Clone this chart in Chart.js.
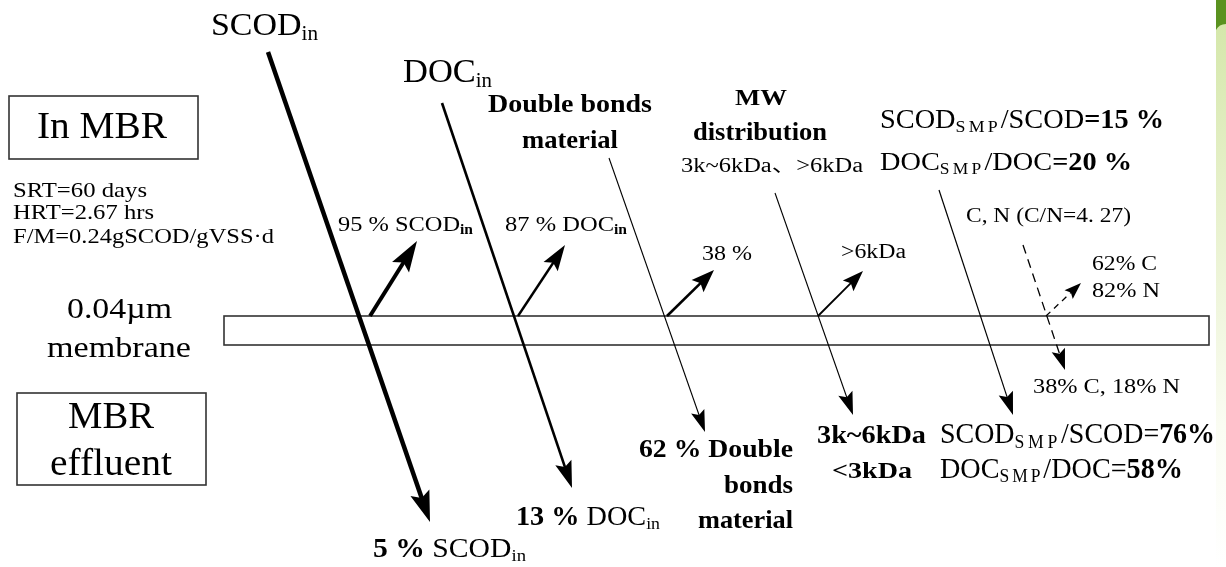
<!DOCTYPE html>
<html>
<head>
<meta charset="utf-8">
<script src="https://cdn.jsdelivr.net/npm/chart.js@4.4.1/dist/chart.umd.min.js"></script>
<style>
  html, body { margin: 0; padding: 0; background: #ffffff; }
  #wrap { width: 1226px; height: 567px; }
</style>
</head>
<body>
<div id="wrap"><canvas id="c" width="1226" height="567"></canvas></div>
<script>
// ---------------- data (diagram units) ----------------
const retainedPct = [95, 87, 38];          // SCODin, DOCin, double bonds kept in MBR
const effluentPct = [5, 13, 62];           // SCODin, DOCin, double bonds in effluent
const smpInMBR = [15, 20];                 // SCOD_SMP/SCOD, DOC_SMP/DOC in MBR (%)
const smpInEffluent = [76, 58];            // SCOD_SMP/SCOD, DOC_SMP/DOC in effluent (%)
const cnRatio = 4.27;
const cnRetained = [62, 82];               // % C, % N
const cnPassed = [38, 18];                 // % C, % N
const operating = ['SRT=60 days', 'HRT=2.67 hrs', 'F/M=0.24gSCOD/gVSS\u00b7d'];
const mwRetained = '>6kDa';
const mwInMBR = ['3k~6kDa', '\u3001', '>6kDa'];
const mwInEffluent = ['3k~6kDa', '<3kDa'];

// flow arrows: x and y of points (start ... tip)
const flowNames = ['SCODin to effluent', 'SCOD retained', 'DOCin to effluent', 'DOC retained',
  'Double bonds to effluent', 'Double bonds retained', 'MW to effluent', 'MW retained',
  'SMP to effluent', 'C,N to effluent', 'C,N retained'];
const flowX = [[268, 430], [370, 417], [442, 572], [518, 565], [609, 705], [667, 714],
  [775, 853], [818, 863], [939, 1013], [1023, 1065], [1046, 1081]];
const flowY = [[52, 522], [316, 241], [103, 488], [316, 245], [158, 432], [316, 270],
  [193, 415], [316, 271], [190, 415], [245, 370], [316, 283]];

// boxes: [x0, x1] and [y0, y1]
const boxNames = ['In MBR', 'MBR effluent', 'membrane'];
const boxX = [[9, 198], [17, 206], [224, 1209]];
const boxY = [[96, 159], [393, 485], [316, 345]];

// ---------------- styles ----------------
const flowWidth = [4.5, 4, 2.6, 2.4, 1.1, 2.6, 1.1, 1.8, 1.2, 1.3, 1.3];
const flowDash = [[], [], [], [], [], [], [], [], [], [9, 6], [6, 5]];
const headLen = [31, 31, 27, 26, 22, 23, 23, 21, 23, 21, 17];
const headHalf = [10, 10, 8.5, 8.5, 7, 8.5, 7.5, 7.5, 7.5, 7, 6];

const SERIF = '"Liberation Serif", "Times New Roman", serif';
const CJK = '"Noto Sans CJK JP", "Noto Sans CJK SC", sans-serif';

// label contents ('r' regular, 'b' bold, 's' subscript, 'sb' bold subscript,
// 'S' spaced subscript, 'c' CJK punctuation)
const labels = [
  [['SCOD', 'r'], ['in', 's']],
  [['DOC', 'r'], ['in', 's']],
  [['Double bonds', 'b']],
  [['material', 'b']],
  [['MW', 'b']],
  [['distribution', 'b']],
  [[mwInMBR[0], 'r'], [mwInMBR[1], 'c'], [mwInMBR[2], 'r']],
  [['SCOD', 'r'], ['SMP', 'S'], ['/SCOD', 'r'], ['=' + smpInMBR[0] + ' %', 'b']],
  [['DOC', 'r'], ['SMP', 'S'], ['/DOC', 'r'], ['=' + smpInMBR[1] + ' %', 'b']],
  [['C, N (C/N=' + cnRatio.toFixed(2).replace('.', '. ') + ')', 'r']],
  [[mwRetained, 'r']],
  [[cnRetained[0] + '% C', 'r']],
  [[cnRetained[1] + '% N', 'r']],
  [[cnPassed[0] + '% C, ' + cnPassed[1] + '% N', 'r']],
  [[mwInEffluent[0], 'b']],
  [[mwInEffluent[1], 'b']],
  [['SCOD', 'r'], ['SMP', 'S'], ['/SCOD=', 'r'], [smpInEffluent[0] + '%', 'b']],
  [['DOC', 'r'], ['SMP', 'S'], ['/DOC=', 'r'], [smpInEffluent[1] + '%', 'b']],
  [[effluentPct[2] + ' % Double', 'b']],
  [['bonds', 'b']],
  [['material', 'b']],
  [[effluentPct[1] + ' %', 'b'], [' DOC', 'r'], ['in', 's']],
  [[effluentPct[0] + ' %', 'b'], [' SCOD', 'r'], ['in', 's']],
  [[retainedPct[0] + ' % SCOD', 'r'], ['in', 'sb']],
  [[retainedPct[1] + ' % DOC', 'r'], ['in', 'sb']],
  [[retainedPct[2] + ' %', 'r']],
  [[operating[0], 'r']],
  [[operating[1], 'r']],
  [[operating[2], 'r']],
  [['0.04\u00b5m', 'r']],
  [['membrane', 'r']],
  [['In MBR', 'r']],
  [['MBR', 'r']],
  [['effluent', 'r']]
];
// label layout: [left x, baseline y, font px, target width]
const labelLayout = [
  [211, 35, 32, 107], [403, 82, 33, 89], [488, 112, 26, 164], [522, 148, 26, 96],
  [735, 105, 24, 52], [693, 140, 26, 134], [681, 172, 20, 182], [880, 128, 27, 284],
  [880, 170, 26, 252], [966, 222, 20, 165], [841, 258, 20, 65], [1092, 270, 20, 65],
  [1092, 297, 20, 68], [1033, 393, 20, 147], [817, 443, 26, 109], [832, 478, 24, 80],
  [940, 443, 30, 275], [940, 478, 29, 243], [639, 457, 25, 154], [724, 493, 25, 69],
  [698, 528, 25, 95], [516, 525, 27, 144], [373, 557, 27, 153], [338, 231, 22, 135],
  [505, 231, 22, 122], [702, 260, 22, 50], [13, 197, 22, 134], [13, 219, 22, 141],
  [13, 243, 22, 261], [67, 318, 30, 105], [47, 357, 30, 144], [37, 138, 38, 130],
  [68, 428, 38, 86], [50, 475, 38, 122]
];

// ---------------- build datasets ----------------
const datasets = flowNames.map((name, i) => {
  const xs = flowX[i], ys = flowY[i];
  const n = xs.length;
  const pts = xs.map((x, k) => ({ x: x, y: ys[k] }));
  // stop shaft a little before the tip so the head covers it
  const dx = xs[n - 1] - xs[n - 2], dy = ys[n - 1] - ys[n - 2];
  const len = Math.hypot(dx, dy);
  const back = headLen[i] * 0.6;
  pts[n - 1] = { x: xs[n - 1] - dx / len * back, y: ys[n - 1] - dy / len * back };
  return {
    label: name,
    data: pts,
    showLine: true,
    borderColor: '#000',
    backgroundColor: '#000',
    borderWidth: flowWidth[i],
    borderDash: flowDash[i],
    borderCapStyle: 'butt',
    pointRadius: 0,
    fill: false,
    tension: 0
  };
});

function isSub(style) { return style === 's' || style === 'sb' || style === 'S'; }
function fontFor(style, size) {
  if (style === 'c') return `${size}px ${CJK}`;
  const bold = style === 'b' || style === 'sb';
  return `${bold ? 'bold ' : ''}${isSub(style) ? Math.round(size * 0.62) : size}px ${SERIF}`;
}
function spacingFor(style, size) {
  return style === 'S' ? Math.round(size * 0.12) + 'px' : '0px';
}

const diagramPlugin = {
  id: 'diagram',
  beforeDraw(chart) {
    const ctx = chart.ctx;
    ctx.save();
    ctx.fillStyle = '#ffffff';
    ctx.fillRect(0, 0, chart.width, chart.height);
    // decorative green strip on the right edge
    const g = ctx.createLinearGradient(0, 0, 0, chart.height);
    g.addColorStop(0, '#d2e6a6');
    g.addColorStop(0.3, '#e4efc6');
    g.addColorStop(0.75, '#fafcf2');
    g.addColorStop(1, '#ffffff');
    ctx.fillStyle = g;
    ctx.fillRect(1216, 0, chart.width - 1216, chart.height);
    // darker band at the top with a rounded lower edge
    ctx.fillStyle = '#5a921f';
    ctx.beginPath();
    ctx.moveTo(1216, 0);
    ctx.lineTo(chart.width, 0);
    ctx.lineTo(chart.width, 24);
    ctx.quadraticCurveTo(1219, 24, 1216, 30);
    ctx.closePath();
    ctx.fill();
    ctx.restore();
  },
  beforeDatasetsDraw(chart) {
    const ctx = chart.ctx, sx = chart.scales.x, sy = chart.scales.y;
    ctx.save();
    ctx.strokeStyle = '#333';
    ctx.lineWidth = 1.6;
    boxNames.forEach((nm, i) => {
      const x0 = sx.getPixelForValue(boxX[i][0]), x1 = sx.getPixelForValue(boxX[i][1]);
      const y0 = sy.getPixelForValue(boxY[i][0]), y1 = sy.getPixelForValue(boxY[i][1]);
      ctx.strokeRect(x0, y0, x1 - x0, y1 - y0);
    });
    ctx.restore();
  },
  afterDatasetsDraw(chart) {
    const ctx = chart.ctx, sx = chart.scales.x, sy = chart.scales.y;
    ctx.save();
    // arrow heads
    flowNames.forEach((nm, i) => {
      const xs = flowX[i], ys = flowY[i], n = xs.length;
      const tx = sx.getPixelForValue(xs[n - 1]), ty = sy.getPixelForValue(ys[n - 1]);
      const px = sx.getPixelForValue(xs[n - 2]), py = sy.getPixelForValue(ys[n - 2]);
      const a = Math.atan2(ty - py, tx - px);
      const L = headLen[i], H = headHalf[i];
      const bx = tx - Math.cos(a) * L, by = ty - Math.sin(a) * L;
      const nx = tx - Math.cos(a) * L * 0.82, ny = ty - Math.sin(a) * L * 0.82;
      ctx.beginPath();
      ctx.moveTo(tx, ty);
      ctx.lineTo(bx + Math.sin(a) * H, by - Math.cos(a) * H);
      ctx.lineTo(nx, ny);
      ctx.lineTo(bx - Math.sin(a) * H, by + Math.cos(a) * H);
      ctx.closePath();
      ctx.fillStyle = '#000';
      ctx.fill();
    });
    // labels
    ctx.fillStyle = '#000';
    ctx.textBaseline = 'alphabetic';
    ctx.textAlign = 'left';
    labels.forEach((segs, i) => {
      const [lx, ly, size, width] = labelLayout[i];
      const widths = segs.map(([t, st]) => {
        ctx.font = fontFor(st, size);
        ctx.letterSpacing = spacingFor(st, size);
        return ctx.measureText(t).width;
      });
      const total = widths.reduce((p, q) => p + q, 0);
      const k = width / total;
      ctx.save();
      ctx.translate(sx.getPixelForValue(lx), sy.getPixelForValue(ly));
      ctx.scale(k, 1);
      let cx = 0;
      segs.forEach(([t, st], j) => {
        ctx.font = fontFor(st, size);
        ctx.letterSpacing = spacingFor(st, size);
        const dy = isSub(st) ? size * 0.15 : 0;
        ctx.fillText(t, cx, dy);
        cx += widths[j];
      });
      ctx.restore();
    });
    ctx.letterSpacing = '0px';
    ctx.restore();
  }
};

new Chart(document.getElementById('c'), {
  type: 'scatter',
  data: { datasets: datasets },
  options: {
    responsive: false,
    animation: false,
    layout: { padding: 0 },
    scales: {
      x: { type: 'linear', min: 0, max: 1226, display: false },
      y: { type: 'linear', min: 0, max: 567, reverse: true, display: false }
    },
    plugins: { legend: { display: false }, tooltip: { enabled: false } },
    elements: { line: { borderJoinStyle: 'miter' } }
  },
  plugins: [diagramPlugin]
});
</script>
</body>
</html>
